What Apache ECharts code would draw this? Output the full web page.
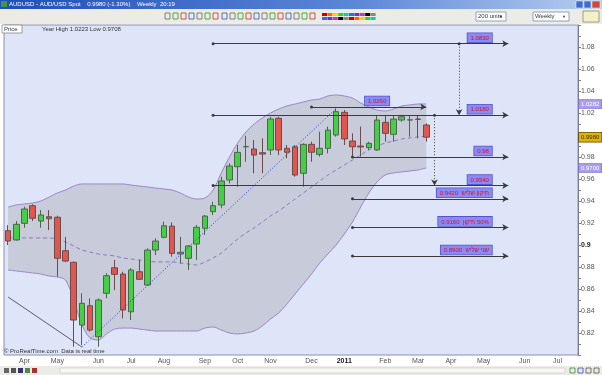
<!DOCTYPE html>
<html><head><meta charset="utf-8">
<script src="https://cdn.jsdelivr.net/npm/echarts@6/dist/echarts.min.js"></script>
<style>html,body{margin:0;padding:0;background:#ffffff;}#c{width:602px;height:375px;}</style>
</head><body><div id="c"></div>
<script>
const weeks = ['2010-03-22','2010-03-29','2010-04-05','2010-04-12','2010-04-19','2010-04-26','2010-05-03','2010-05-10','2010-05-17','2010-05-24',
'2010-05-31','2010-06-07','2010-06-14','2010-06-21','2010-06-28','2010-07-05','2010-07-12','2010-07-19','2010-07-26','2010-08-02',
'2010-08-09','2010-08-16','2010-08-23','2010-08-30','2010-09-06','2010-09-13','2010-09-20','2010-09-27','2010-10-04','2010-10-11',
'2010-10-18','2010-10-25','2010-11-01','2010-11-08','2010-11-15','2010-11-22','2010-11-29','2010-12-06','2010-12-13','2010-12-20',
'2010-12-27','2011-01-03','2011-01-10','2011-01-17','2011-01-24','2011-01-31','2011-02-07','2011-02-14','2011-02-21','2011-02-28',
'2011-03-07','2011-03-14','2011-03-21','2011-03-28','2011-04-04','2011-04-11','2011-04-18','2011-04-25','2011-05-02','2011-05-09',
'2011-05-16','2011-05-23','2011-05-30','2011-06-06','2011-06-13','2011-06-20','2011-06-27','2011-07-04','2011-07-11','2011-07-18'];

const opens  = [0.9130,0.9046,0.9197,0.9357,0.9218,0.9257,0.9252,0.8948,0.8843,0.8272,0.8448,0.8166,0.8561,0.8793,0.8736,0.8393,0.8757,0.8636,0.8954,0.9070,0.9172,0.8918,0.8879,0.9009,0.9152,0.9303,0.9364,0.9591,0.9712,0.9893,0.9873,0.9839,0.9864,1.0152,0.9879,0.9893,0.9652,0.9915,0.9824,0.9879,1.0000,1.0206,0.9945,0.9900,0.9885,0.9864,1.0115,1.0006,1.0136,1.0136,1.0145,1.0091];
const closes = [0.9036,0.9188,0.9327,0.9243,0.9273,0.9239,0.8879,0.8854,0.8318,0.8470,0.8227,0.8500,0.8721,0.8733,0.8409,0.8773,0.8688,0.8954,0.9036,0.9175,0.8924,0.8933,0.8991,0.9161,0.9263,0.9357,0.9582,0.9718,0.9842,0.9895,0.9818,0.9827,1.0145,0.9864,0.9843,0.9636,0.9915,0.9843,0.9879,1.0045,1.0212,0.9964,0.9893,0.9891,0.9924,1.0136,1.0015,1.0145,1.0166,1.0138,1.0142,0.9980];
const lows   = [0.9000,0.9039,0.9157,0.9218,0.9157,0.9136,0.8712,0.8843,0.8075,0.8091,0.8212,0.8075,0.8515,0.8591,0.8333,0.8318,0.8682,0.8627,0.8909,0.9061,0.8894,0.8833,0.8773,0.8864,0.9091,0.9273,0.9334,0.9561,0.9530,0.9757,0.9652,0.9652,0.9818,0.9818,0.9788,0.9621,0.9530,0.9757,0.9803,0.9833,0.9985,0.9909,0.9803,0.9803,0.9864,0.9855,0.9939,0.9939,1.0121,0.9985,0.9970,0.9939];
const highs  = [0.9180,0.9218,0.9348,0.9370,0.9318,0.9318,0.9266,0.9075,0.8850,0.8561,0.8515,0.8515,0.8743,0.8864,0.8757,0.8788,0.8864,0.8970,0.9061,0.9212,0.9206,0.9075,0.9000,0.9182,0.9273,0.9393,0.9621,0.9742,0.9909,0.9993,0.9954,0.9970,1.0166,1.0166,0.9909,0.9909,0.9924,0.9939,1.0030,1.0076,1.0242,1.0227,1.0015,1.0076,0.9939,1.0182,1.0182,1.0176,1.0182,1.0182,1.0176,1.0106];

const bbUpper  = [0.9345,0.9364,0.9373,0.9382,0.9400,0.9436,0.9473,0.9500,0.9536,0.9555,0.9555,0.9555,0.9555,0.9555,0.9555,0.9545,0.9536,0.9527,0.9518,0.9509,0.9500,0.9473,0.9436,0.9418,0.9427,0.9500,0.9655,0.9800,0.9927,1.0027,1.0100,1.0155,1.0200,1.0236,1.0264,1.0282,1.0300,1.0318,1.0327,1.0355,1.0364,1.0355,1.0336,1.0291,1.0255,1.0227,1.0218,1.0236,1.0264,1.0273,1.0282,1.0282];
const bbMiddle = [0.9064,0.9064,0.9064,0.9064,0.9064,0.9064,0.9055,0.9027,0.8991,0.8955,0.8936,0.8918,0.8909,0.8900,0.8882,0.8873,0.8864,0.8855,0.8846,0.8846,0.8846,0.8836,0.8827,0.8818,0.8846,0.8882,0.8927,0.8991,0.9055,0.9109,0.9155,0.9209,0.9264,0.9309,0.9364,0.9418,0.9473,0.9527,0.9582,0.9636,0.9682,0.9727,0.9773,0.9818,0.9864,0.9900,0.9927,0.9945,0.9964,0.9973,0.9982,0.9991];
const bbLower  = [0.8773,0.8764,0.8755,0.8746,0.8736,0.8718,0.8709,0.8682,0.8500,0.8273,0.8155,0.8136,0.8191,0.8236,0.8245,0.8245,0.8236,0.8227,0.8218,0.8218,0.8218,0.8218,0.8218,0.8218,0.8245,0.8255,0.8227,0.8200,0.8191,0.8200,0.8218,0.8264,0.8327,0.8382,0.8464,0.8555,0.8645,0.8736,0.8836,0.8918,0.9000,0.9100,0.9209,0.9345,0.9473,0.9573,0.9636,0.9655,0.9664,0.9673,0.9682,0.9700];

const xTickIndex  = [2,6,11,15,19,24,28,32,37,41,46,50,54,58,63,67];
const xTickLabels = ['Apr','May','Jun','Jul','Aug','Sep','Oct','Nov','Dec','2011','Feb','Mar','Apr','May','Jun','Jul'];
const yTickValues = [1.08,1.06,1.04,1.02,1.00,0.98,0.96,0.94,0.92,0.90,0.88,0.86,0.84,0.82];
const yTickLabels = ['1.08','1.06','1.04','1.02','1','0.98','0.96','0.94','0.92','0.9','0.88','0.86','0.84','0.82'];

const levelValues  = [1.0830, 1.0255, 1.0180, 0.9800, 0.9540, 0.9420, 0.9160, 0.8900];
const levelFrom    = [25, 37, 25, 42, 25, 42, 42, 42];
const levelTo      = [61, 51, 61, 61, 61, 61, 61, 61];
const levelTexts   = ['1.0830','1.0260','1.0180','0.98','0.9540','0.9420  \u05EA\u05D9\u05E7\u05D5\u05DF \u05E9\u05DC\u05D9\u05E9','0.9160  \u05EA\u05D9\u05E7\u05D5\u05DF\u200E 50%','0.8900  \u05E9\u05E0\u05D9 \u05E9\u05DC\u05D9\u05E9'];
const levelLabelAt = [59, 45, 59, 59, 59, 59, 59, 59];
const measureLines = [[55, 1.0830, 1.0180], [52, 1.0180, 0.9540]];
const trendDown = [[-0.5, 0.8527], [9, 0.8073]];
const trendUp   = [[9, 0.8073], [40, 1.0240]];

const FONT = 'Liberation Sans, Arial, DejaVu Sans, sans-serif';
const chart = echarts.init(document.getElementById('c'), null, {renderer: 'canvas'});
const candleData = opens.map((o, i) => [o, closes[i], lows[i], highs[i]]);
const bandDiff = bbUpper.map((u, i) => +(u - bbLower[i]).toFixed(4));

const markData = levelValues.map((v, k) => [
  {coord: [levelFrom[k], v], symbol: 'circle', symbolSize: 3, lineStyle: {color: '#3a3a3a', width: 1, type: 'solid'}},
  {coord: [levelTo[k], v], symbol: 'arrow', symbolSize: [5, 6]}
]);
measureLines.forEach(m => markData.push([
  {coord: [m[0], m[1]], symbol: 'circle', symbolSize: 3, lineStyle: {color: '#3a3a3a', width: 1, type: [1, 2]}},
  {coord: [m[0], m[2]], symbol: 'arrow', symbolSize: [5, 6]}
]));

const option = {
  animation: false,
  backgroundColor: '#ffffff',
  grid: {left: 4, right: 24, top: 25, bottom: 20, show: true, backgroundColor: '#dfe5f9', borderColor: '#8890aa', borderWidth: 1},
  xAxis: {
    type: 'category', data: weeks, boundaryGap: true,
    axisLine: {show: false}, axisTick: {show: false}, splitLine: {show: false},
    axisLabel: {
      interval: (idx) => xTickIndex.indexOf(idx) >= 0,
      formatter: (val, idx) => { const t = xTickLabels[xTickIndex.indexOf(idx)]; return t === '2011' ? '{b|2011}' : t; },
      fontSize: 7, color: '#555', margin: 3, fontFamily: FONT,
      rich: {b: {fontWeight: 'bold', fontSize: 7, color: '#222', fontFamily: FONT}}
    }
  },
  yAxis: {
    type: 'value', position: 'right', min: 0.80, max: 1.10, interval: 0.01,
    axisLine: {show: true, lineStyle: {color: '#7c7c90'}},
    axisTick: {show: true, length: 3, lineStyle: {color: '#7c7c90'}},
    splitLine: {show: false},
    axisLabel: {
      fontSize: 7, color: '#555', margin: 3, fontFamily: FONT, align: 'left',
      formatter: (v) => {
        for (let k = 0; k < yTickValues.length; k++) {
          if (Math.abs(v - yTickValues[k]) < 1e-6) {
            const t = yTickLabels[k];
            return (t === '0.9' || t === '1') ? '{b|' + t + '}' : t;
          }
        }
        return '';
      },
      rich: {b: {fontWeight: 'bold', fontSize: 7, color: '#222', fontFamily: FONT}}
    }
  },
  series: [
    {name: 'bandBase', type: 'line', data: bbLower, stack: 'bb', symbol: 'none', smooth: 0.3, lineStyle: {width: 0, opacity: 0}, silent: true, z: 1},
    {name: 'bandFill', type: 'line', data: bandDiff, stack: 'bb', symbol: 'none', smooth: 0.3, lineStyle: {width: 0, opacity: 0}, areaStyle: {color: '#c8cbd9', opacity: 1}, silent: true, z: 1},
    {name: 'upper', type: 'line', data: bbUpper, symbol: 'none', smooth: 0.3, lineStyle: {color: '#9a86c8', width: 1}, z: 2},
    {name: 'lower', type: 'line', data: bbLower, symbol: 'none', smooth: 0.3, lineStyle: {color: '#9a86c8', width: 1}, z: 2},
    {name: 'middle', type: 'line', data: bbMiddle, symbol: 'none', smooth: 0.3, lineStyle: {color: '#8a78c0', width: 1, type: [4, 3]}, z: 2},
    {name: 'trendDown', type: 'line', data: trendDown, symbol: 'none', lineStyle: {color: '#5a5a78', width: 1}, z: 3},
    {name: 'price', type: 'candlestick', data: candleData, barWidth: 6, z: 4,
      itemStyle: {color: '#45cf45', color0: '#e2574d', borderColor: '#4d654d', borderColor0: '#6b4b4b', borderWidth: 1},
      markLine: {silent: true, animation: false, label: {show: false}, data: markData}
    },
    {name: 'trendUp', type: 'line', z: 5,
      data: [{value: trendUp[0], symbol: 'none'}, {value: trendUp[1], symbol: 'rect', symbolSize: 4}],
      showSymbol: true, itemStyle: {color: '#2a36d8'}, lineStyle: {color: '#2a36d8', width: 1, type: [1, 2]}}
  ]
};
chart.setOption(option);

function px(i, v) { return chart.convertToPixel({xAxisIndex: 0, yAxisIndex: 0}, [i, v]); }

const g = [];
// title bar
g.push({type: 'rect', shape: {x: 0, y: 0, width: 602, height: 9}, style: {fill: new echarts.graphic.LinearGradient(0, 0, 1, 0, [{offset: 0, color: '#1f4fb8'}, {offset: 0.6, color: '#5d88d8'}, {offset: 1, color: '#b8cdf0'}])}});
g.push({type: 'text', x: 9, y: 4.5, style: {text: 'AUDUSD - AUD/USD Spot    0.9980 (-1.30%)    Weekly  20:19', fill: '#ffffff', font: '6px ' + FONT, verticalAlign: 'middle'}});
g.push({type: 'rect', shape: {x: 1, y: 1, width: 6, height: 6}, style: {fill: '#3b9b3b'}});
g.push({type: 'rect', shape: {x: 576, y: 1, width: 7, height: 7}, style: {fill: '#3d6ed8', stroke: '#ffffff', lineWidth: 0.5}});
g.push({type: 'rect', shape: {x: 584, y: 1, width: 7, height: 7}, style: {fill: '#3d6ed8', stroke: '#ffffff', lineWidth: 0.5}});
g.push({type: 'rect', shape: {x: 592, y: 1, width: 8, height: 7}, style: {fill: '#d8462e', stroke: '#ffffff', lineWidth: 0.5}});
// toolbar
g.push({type: 'rect', shape: {x: 0, y: 9, width: 602, height: 15}, style: {fill: '#ecebe6'}});
const pal = ['#cc0000','#ff6600','#ffcc00','#33cc33','#00cccc','#3366ff','#6633cc','#cc33cc','#000000','#888888'];
for (let k = 0; k < 10; k++) {
  g.push({type: 'rect', shape: {x: 322 + k * 5.4, y: 13, width: 5, height: 3}, style: {fill: pal[k]}});
  g.push({type: 'rect', shape: {x: 322 + k * 5.4, y: 17, width: 5, height: 3}, style: {fill: pal[(k + 5) % 10]}});
}
const icons = [165,173,181,189,197,205,213,222,230,238,246,254,262,270,278,286,294,302,310];
icons.forEach((x, k) => g.push({type: 'rect', shape: {x: x, y: 13, width: 5, height: 6}, style: {fill: 'none', stroke: ['#666','#2a9a2a','#c03030','#3050c0'][k % 4], lineWidth: 0.8}}));
g.push({type: 'rect', shape: {x: 476, y: 12, width: 30, height: 9}, style: {fill: '#ffffff', stroke: '#8ea2c0', lineWidth: 1}});
g.push({type: 'text', x: 478, y: 16.5, style: {text: '200 units', fill: '#333', font: '6px ' + FONT, verticalAlign: 'middle'}});
g.push({type: 'text', x: 499, y: 16.5, style: {text: '\u25BC', fill: '#333', font: '4px ' + FONT, verticalAlign: 'middle'}});
g.push({type: 'rect', shape: {x: 533, y: 12, width: 36, height: 9}, style: {fill: '#ffffff', stroke: '#8ea2c0', lineWidth: 1}});
g.push({type: 'text', x: 535, y: 16.5, style: {text: 'Weekly', fill: '#333', font: '6px ' + FONT, verticalAlign: 'middle'}});
g.push({type: 'text', x: 562, y: 16.5, style: {text: '\u25BC', fill: '#333', font: '4px ' + FONT, verticalAlign: 'middle'}});
g.push({type: 'rect', shape: {x: 583, y: 11, width: 16, height: 11}, style: {fill: '#f4f1c8', stroke: '#8a8a60', lineWidth: 0.8}});
// panel header
g.push({type: 'rect', shape: {x: 2, y: 25, width: 20, height: 8}, style: {fill: '#ffffff', stroke: '#888', lineWidth: 0.8}});
g.push({type: 'text', x: 4, y: 29, style: {text: 'Price', fill: '#333', font: '6px ' + FONT, verticalAlign: 'middle'}});
g.push({type: 'text', x: 42, y: 29, style: {text: 'Year High 1.0223 Low 0.9708', fill: '#333', font: '6px ' + FONT, verticalAlign: 'middle'}});
g.push({type: 'text', x: 4, y: 351, style: {text: '\u00A9 ProRealTime.com  Data is real time', fill: '#333', font: '6px ' + FONT, verticalAlign: 'middle'}});
// bottom toolbar
g.push({type: 'rect', shape: {x: 0, y: 366, width: 602, height: 9}, style: {fill: '#ecebe6'}});
g.push({type: 'rect', shape: {x: 60, y: 368, width: 505, height: 5}, style: {fill: '#f7f7f4', stroke: '#c8c8c0', lineWidth: 0.6}});
[4, 11, 18, 25, 32].forEach((x, k) => g.push({type: 'rect', shape: {x: x, y: 368, width: 5, height: 5}, style: {fill: ['#666','#555','#336','#4a8a4a','#a83030'][k]}}));
[570, 578, 586, 594].forEach((x, k) => g.push({type: 'rect', shape: {x: x, y: 368, width: 5, height: 5}, style: {fill: 'none', stroke: ['#3a8a3a','#3050b0','#555','#555'][k], lineWidth: 0.8}}));

// level labels
levelTexts.forEach((t, k) => {
  const p = px(levelLabelAt[k], levelValues[k]);
  const centre = levelLabelAt[k] !== 59;
  g.push({type: 'text', z: 100, x: p[0], y: p[1] - 1.5, style: {
    text: t, fill: '#d0103c', font: '6px ' + FONT, align: centre ? 'center' : 'right', verticalAlign: 'bottom',
    backgroundColor: '#8a8af2', borderColor: '#5454c8', borderWidth: 0.8, padding: [2, 3, 1, 3]
  }});
});
// axis tags
const tagU = px(51, bbUpper[51]);
const tagL = px(51, bbLower[51]);
const tagC = px(51, closes[51]);
g.push({type: 'text', z: 100, x: 579, y: tagU[1], style: {text: bbUpper[51].toFixed(4), fill: '#ffffff', font: '6px ' + FONT, verticalAlign: 'middle', backgroundColor: '#a99ee8', borderColor: '#7e70d0', borderWidth: 0.8, padding: [1, 2, 1, 2]}});
g.push({type: 'text', z: 100, x: 579, y: tagL[1], style: {text: bbLower[51].toFixed(4), fill: '#ffffff', font: '6px ' + FONT, verticalAlign: 'middle', backgroundColor: '#a99ee8', borderColor: '#7e70d0', borderWidth: 0.8, padding: [1, 2, 1, 2]}});
g.push({type: 'text', z: 100, x: 579, y: tagC[1], style: {text: closes[51].toFixed(4), fill: '#3a2a00', font: '6px ' + FONT, verticalAlign: 'middle', backgroundColor: '#e0b400', borderColor: '#5a4a10', borderWidth: 0.8, padding: [2, 2, 1, 2]}});

chart.setOption({graphic: g});
</script>
</body></html>
